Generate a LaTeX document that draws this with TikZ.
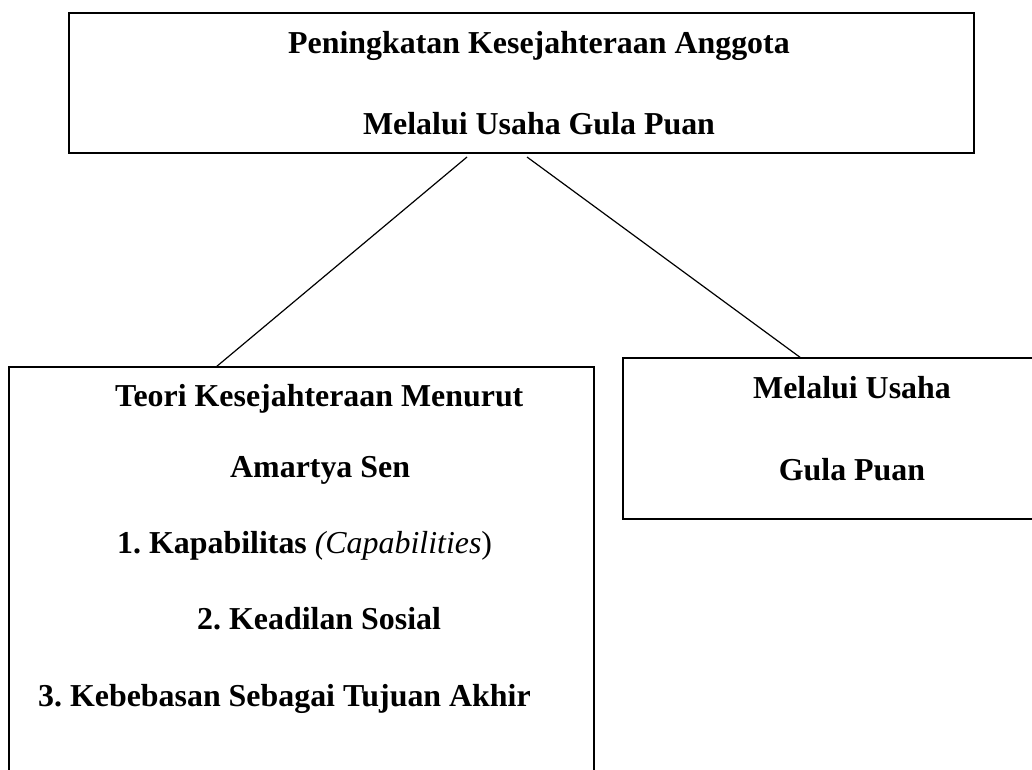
\documentclass[tikz,border=0pt]{standalone}
\usepackage{fontspec}
\setmainfont{Liberation Serif}
\usetikzlibrary{positioning,calc}
\frenchspacing

\begin{document}
\begin{tikzpicture}[x=1pt,y=-1pt,
  kotak/.style={draw,line width=1.3pt,inner sep=0pt,outer sep=0pt,anchor=north west},
  teks/.style={inner sep=0pt,font=\fontsize{31.9}{38}\selectfont\bfseries},
  garis/.style={line width=1.2pt}]
\useasboundingbox (0,0) rectangle (1032,769);
\clip (0,0) rectangle (1032,769);

% boxes
\node[kotak,minimum width=905pt,minimum height=140pt] (judul) at (69,13) {};
\node[kotak,minimum width=585pt,minimum height=430pt] (teori) at (9,367) {};
\node[kotak,minimum width=420pt,minimum height=161pt] (usaha) at (623,358) {};

% top box text
\node[teks,anchor=base] (judulA) at (539,53) {Peningkatan Kesejahteraan Anggota};
\node[teks,anchor=base] (judulB) at (539,134) {Melalui Usaha Gula Puan};

% left box text
\node[teks,anchor=base west] (teoriA) at (115,406) {Teori Kesejahteraan Menurut};
\node[teks,anchor=base west] (teoriB) at (230,477) {Amartya Sen};
\node[teks,anchor=base west] (poin1) at (117,553) {1. Kapabilitas \textmd{\textit{(Capabilities})}};
\node[teks,anchor=base west] (poin2) at (197,629) {2. Keadilan Sosial};
\node[teks,anchor=base west] (poin3) at (38,706) {3. Kebebasan Sebagai Tujuan Akhir};

% right box text
\node[teks,anchor=base] (usahaA) at (852,398) {Melalui Usaha};
\node[teks,anchor=base] (usahaB) at (852,480) {Gula Puan};

% connectors
\coordinate (kiri) at ($(judul.south west)+(398,4)$);
\coordinate (kanan) at ($(judul.south west)+(458,4)$);
\draw[garis] (kiri) -- (teori.north west -| 216,0);
\draw[garis] (kanan) -- (usaha.north west -| 801,0);
\end{tikzpicture}
\end{document}
